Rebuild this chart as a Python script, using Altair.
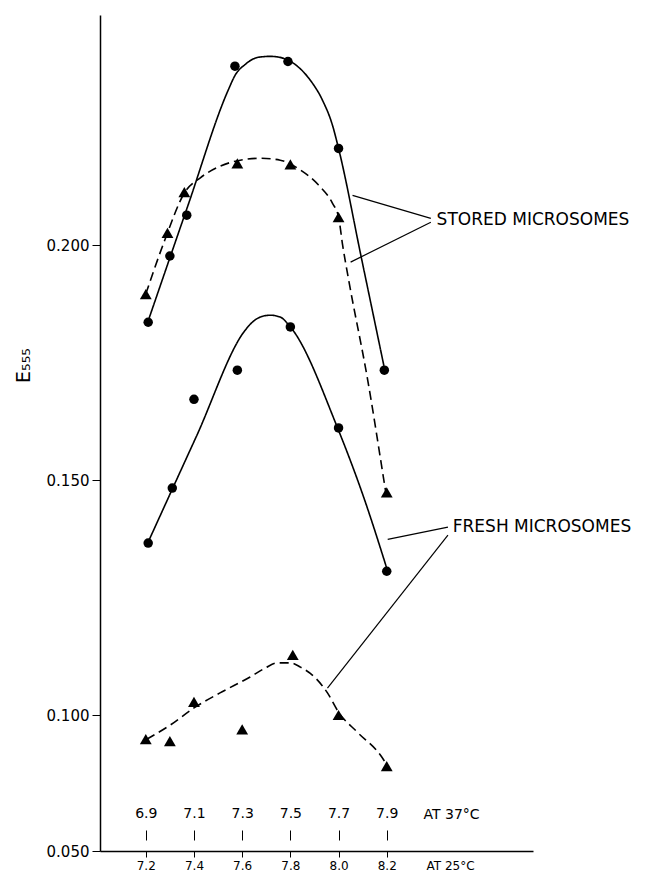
import altair as alt
import pandas as pd

# ---- measured points (pH at 25 C, E555) ----
stored_circ_x = [7.21, 7.30, 7.37, 7.57, 7.79, 8.00, 8.19]
stored_circ_y = [0.1836, 0.1977, 0.2064, 0.2381, 0.2391, 0.2206, 0.1734]

stored_tri_x = [7.20, 7.29, 7.36, 7.58, 7.80, 8.00, 8.20]
stored_tri_y = [0.1896, 0.2026, 0.2113, 0.2174, 0.2172, 0.2060, 0.1474]

fresh_circ_x = [7.21, 7.31, 7.40, 7.58, 7.80, 8.00, 8.20]
fresh_circ_y = [0.1366, 0.1483, 0.1672, 0.1734, 0.1826, 0.1611, 0.1306]

fresh_tri_x = [7.20, 7.30, 7.40, 7.60, 7.81, 8.00, 8.20]
fresh_tri_y = [0.0911, 0.0904, 0.1028, 0.0947, 0.1128, 0.1000, 0.0812]

# ---- hand-drawn fitted curves ----
stored_solid_cx = [7.208, 7.374, 7.542, 7.571, 7.613, 7.667, 7.717, 7.771, 7.829, 7.883, 7.933, 7.975, 8.000, 8.096, 8.192]
stored_solid_cy = [0.1836, 0.2083, 0.2330, 0.2362, 0.2385, 0.2400, 0.2402, 0.2398, 0.2381, 0.2351, 0.2309, 0.2255, 0.2206, 0.1970, 0.1734]

stored_dash_cx = [7.200, 7.279, 7.3625, 7.425, 7.508, 7.592, 7.675, 7.758, 7.842, 7.917, 7.975, 8.000, 8.017, 8.042, 8.121, 8.188, 8.196]
stored_dash_cy = [0.1896, 0.2011, 0.2113, 0.2143, 0.2168, 0.2181, 0.2185, 0.2181, 0.2160, 0.2128, 0.2089, 0.2060, 0.2000, 0.1926, 0.1713, 0.1500, 0.1474]

fresh_solid_cx = [7.208, 7.410, 7.6125, 7.642, 7.675, 7.717, 7.758, 7.800, 7.996, 8.104, 8.204]
fresh_solid_cy = [0.1366, 0.1593, 0.1819, 0.1836, 0.1847, 0.1851, 0.1847, 0.1826, 0.1611, 0.1464, 0.1306]

fresh_dash_cx = [7.204, 7.300, 7.400, 7.508, 7.633, 7.696, 7.746, 7.800, 7.842, 7.904, 7.954, 8.000, 8.079, 8.175, 8.204]
fresh_dash_cy = [0.0911, 0.0962, 0.1015, 0.1047, 0.1081, 0.1100, 0.1111, 0.1111, 0.1102, 0.1079, 0.1047, 0.1006, 0.0936, 0.0851, 0.0812]

# ---- annotations ----
label_text = ["STORED   MICROSOMES", "FRESH   MICROSOMES"]
label_x = [8.407, 8.474]
label_y = [0.2053, 0.1400]

leader_x = [8.383, 8.383, 8.454, 8.454]
leader_y = [0.2057, 0.2049, 0.1400, 0.1383]
leader_x2 = [8.058, 8.050, 8.204, 7.954]
leader_y2 = [0.2106, 0.1964, 0.1374, 0.1057]

x_ticks = [7.2, 7.4, 7.6, 7.8, 8.0, 8.2]
y_ticks = [0.05, 0.10, 0.15, 0.20]

FONT = "DejaVu Sans"

# ---- tables ----
rows = []
for name, style, xs, ys in [
    ("stored_solid", "solid", stored_solid_cx, stored_solid_cy),
    ("stored_dash", "dashed", stored_dash_cx, stored_dash_cy),
    ("fresh_solid", "solid", fresh_solid_cx, fresh_solid_cy),
    ("fresh_dash", "dashed", fresh_dash_cx, fresh_dash_cy),
]:
    for a, b in zip(xs, ys):
        rows.append({"x": a, "y": b, "series": name, "style": style})
curves = pd.DataFrame(rows)

prow = []
for shape, xs, ys in [
    ("circle", stored_circ_x, stored_circ_y),
    ("triangle-up", stored_tri_x, stored_tri_y),
    ("circle", fresh_circ_x, fresh_circ_y),
    ("triangle-up", fresh_tri_x, fresh_tri_y),
]:
    for a, b in zip(xs, ys):
        prow.append({"x": a, "y": b, "shape": shape})
points = pd.DataFrame(prow)

leaders = pd.DataFrame({"x": leader_x, "y": leader_y, "x2": leader_x2, "y2": leader_y2})
labels = pd.DataFrame({"x": label_x, "y": label_y, "text": label_text})

H = 836
xscale = alt.Scale(domain=[7.01, 8.807], nice=False, zero=False)
yscale = alt.Scale(domain=[0.05, 0.10, 0.249], range=[H, 700, 0], nice=False, zero=False)

bottom_axis = alt.Axis(
    orient="bottom", values=x_ticks, format=".1f", grid=False,
    tickSize=6, tickColor="black", domainColor="black", domainWidth=1.5,
    labelPadding=3, labelFontSize=12, labelFont=FONT, labelColor="black",
    title="AT 25°C", titleFont=FONT, titleFontSize=12, titleFontWeight="normal",
    titleAngle=0, titleX=326, titleY=9, titleAlign="left", titleBaseline="top",
    titleColor="black",
)
top_axis = alt.Axis(
    orient="top", offset=-825, values=x_ticks, grid=False, domain=False,
    labelExpr="format(datum.value - 0.3, '.1f')",
    tickSize=10, tickColor="black", labelPadding=10, labelFontSize=14,
    labelFont=FONT, labelColor="black",
    title="AT 37°C", titleFont=FONT, titleFontSize=14, titleFontWeight="normal",
    titleAngle=0, titleX=323, titleY=-26, titleAlign="left", titleBaseline="middle",
    titleColor="black",
)
left_axis = alt.Axis(
    orient="left", values=y_ticks, format=".3f", grid=False,
    tickSize=8, tickColor="black", domainColor="black", domainWidth=1.5,
    labelPadding=3, labelFontSize=15, labelFont=FONT, labelColor="black",
    title="E₅₅₅", titleFont=FONT, titleFontSize=19, titleFontWeight="normal",
    titleAngle=270, titleX=-77, titleY=350, titleAlign="center",
    titleBaseline="middle", titleColor="black",
)

lines = alt.Chart(curves).mark_line(color="black", strokeWidth=1.6, interpolate="monotone").encode(
    x=alt.X("x:Q", scale=xscale, axis=bottom_axis),
    y=alt.Y("y:Q", scale=yscale, axis=left_axis),
    detail="series:N",
    strokeDash=alt.StrokeDash("style:N", scale=alt.Scale(domain=["solid", "dashed"], range=[[1, 0], [9, 5]]), legend=None),
)

marks = alt.Chart(points).mark_point(filled=True, color="black", opacity=1).encode(
    x=alt.X("x:Q", scale=xscale, axis=top_axis),
    y=alt.Y("y:Q", scale=yscale, axis=None),
    shape=alt.Shape("shape:N", scale=alt.Scale(domain=["circle", "triangle-up"], range=["circle", "triangle-up"]), legend=None),
    size=alt.Size("shape:N", scale=alt.Scale(domain=["circle", "triangle-up"], range=[90, 140]), legend=None),
)

rules = alt.Chart(leaders).mark_rule(color="black", strokeWidth=1.2).encode(
    x=alt.X("x:Q", scale=xscale, axis=None),
    y=alt.Y("y:Q", scale=yscale, axis=None),
    x2="x2:Q",
    y2="y2:Q",
)

texts = alt.Chart(labels).mark_text(align="left", baseline="middle", font=FONT, fontSize=17, color="black").encode(
    x=alt.X("x:Q", scale=xscale, axis=None),
    y=alt.Y("y:Q", scale=yscale, axis=None),
    text="text:N",
)

chart = alt.layer(lines, marks, rules, texts).resolve_axis(
    x="independent", y="independent"
).properties(
    width=433, height=H,
    padding={"left": 92, "top": 7, "right": 117, "bottom": 21},
    autosize=alt.AutoSizeParams(type="none"),
    background="white",
).configure_view(stroke=None)

chart.save("out.html", embed_options={"renderer": "svg", "actions": False})
